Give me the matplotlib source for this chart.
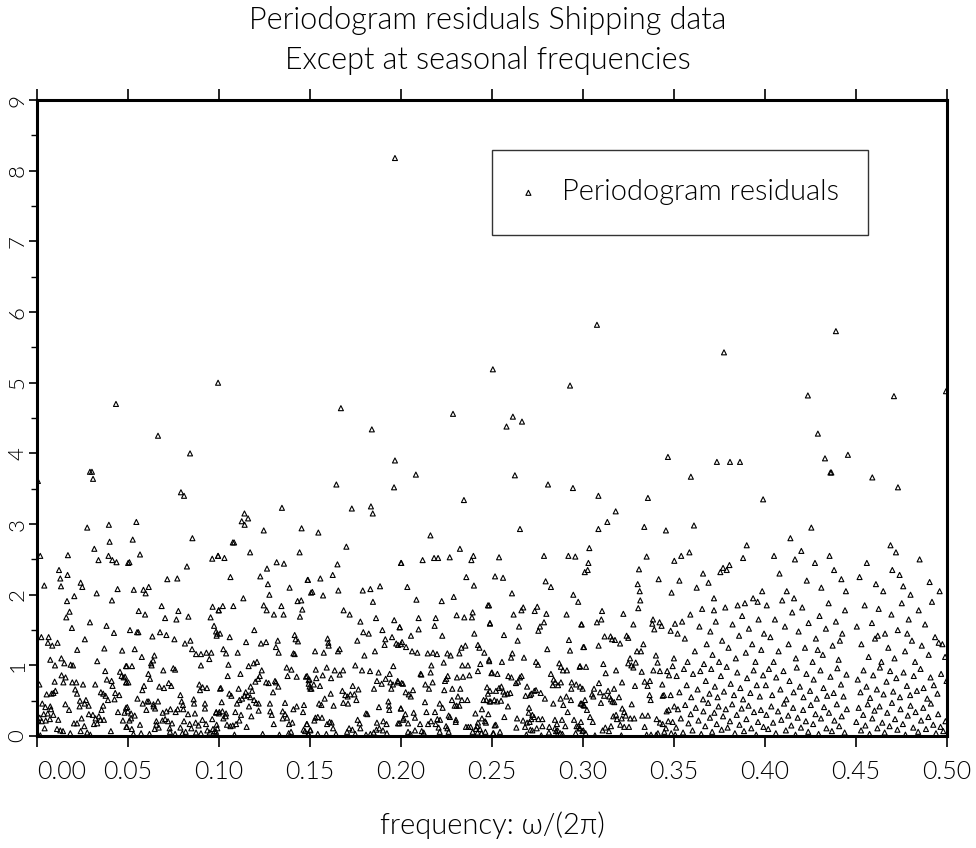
import numpy as np
import matplotlib.pyplot as plt

# (frequency, periodogram residual), grouped in 0.05 bands
band_00 = [
    (0.0005, 3.61), (0.0291, 3.74), (0.0302, 3.74), (0.0308, 3.64), (0.0434, 4.70),
    (0.0276, 2.95), (0.0395, 2.99), (0.0399, 2.75), (0.0315, 2.65), (0.0018, 2.55), (0.0170, 2.56),
    (0.0338, 2.49), (0.0393, 2.55), (0.0414, 2.49), (0.0437, 2.46), (0.0501, 2.45), (0.0121, 2.35),
    (0.0168, 2.28), (0.0128, 2.23), (0.0132, 2.12), (0.0040, 2.13), (0.0240, 2.17), (0.0249, 2.11),
    (0.0328, 2.02), (0.0443, 2.08), (0.0205, 1.98), (0.0165, 1.91), (0.0412, 1.92), (0.0179, 1.76),
    (0.0161, 1.68), (0.0192, 1.53), (0.0291, 1.61), (0.0382, 1.56), (0.0423, 1.46), (0.0024, 1.40),
    (0.0064, 1.40), (0.0060, 1.32), (0.0084, 1.28), (0.0113, 1.32), (0.0263, 1.37), (0.0221, 1.22),
    (0.0370, 1.24), (0.0468, 1.21), (0.0073, 1.08), (0.0099, 1.00), (0.0134, 1.10), (0.0150, 1.03),
    (0.0185, 1.01), (0.0198, 1.00), (0.0331, 1.06), (0.0489, 0.99), (0.0013, 0.73), (0.0097, 0.77),
    (0.0135, 0.86), (0.0157, 0.83), (0.0145, 0.76), (0.0194, 0.76), (0.0216, 0.76), (0.0253, 0.73),
    (0.0320, 0.73), (0.0375, 0.92), (0.0384, 0.80), (0.0410, 0.78), (0.0456, 0.91), (0.0465, 0.85),
    (0.0476, 0.83), (0.0490, 0.76), (0.0415, 0.71), (0.0210, 0.66), (0.0220, 0.60), (0.0101, 0.64),
    (0.0090, 0.61), (0.0080, 0.60), (0.0053, 0.59), (0.0351, 0.62), (0.0364, 0.60), (0.0377, 0.57),
    (0.0390, 0.51), (0.0430, 0.61), (0.0452, 0.58), (0.0426, 0.52), (0.0236, 0.50), (0.0269, 0.51),
    (0.0262, 0.46), (0.0029, 0.46), (0.0046, 0.41), (0.0073, 0.42), (0.0077, 0.38), (0.0156, 0.45),
    (0.0176, 0.37), (0.0234, 0.42), (0.0284, 0.43), (0.0364, 0.43), (0.0355, 0.37), (0.0496, 0.41),
    (0.0481, 0.33), (0.0445, 0.34), (0.0059, 0.32), (0.0037, 0.31), (0.0015, 0.26), (0.0007, 0.22),
    (0.0026, 0.21), (0.0048, 0.22), (0.0071, 0.24), (0.0090, 0.30), (0.0117, 0.23), (0.0245, 0.25),
    (0.0285, 0.31), (0.0307, 0.30), (0.0322, 0.25), (0.0340, 0.28), (0.0348, 0.23), (0.0368, 0.23),
    (0.0331, 0.18), (0.0313, 0.17), (0.0472, 0.22), (0.0494, 0.13), (0.0203, 0.18), (0.0220, 0.18),
    (0.0042, 0.11), (0.0110, 0.10), (0.0128, 0.08), (0.0143, 0.07), (0.0260, 0.14), (0.0240, 0.07),
    (0.0183, 0.04), (0.0276, 0.05), (0.0293, 0.02), (0.0406, 0.07), (0.0018, 0.01),
]

band_05 = [
    (0.0665, 4.25), (0.0841, 4.00), (0.0791, 3.45), (0.0808, 3.40), (0.0995, 5.00),
    (0.0546, 3.03), (0.0526, 2.78), (0.0854, 2.80), (0.0566, 2.57), (0.0508, 2.46), (0.0824, 2.40),
    (0.0963, 2.51), (0.0995, 2.55), (0.0716, 2.22), (0.0771, 2.23), (0.0532, 2.07), (0.0585, 2.07),
    (0.0597, 2.02), (0.0614, 2.11), (0.0685, 1.84), (0.0559, 1.77), (0.0594, 1.72), (0.0704, 1.67),
    (0.0777, 1.77), (0.0766, 1.65), (0.0832, 1.69), (0.0965, 1.83), (0.0998, 1.78), (0.0954, 1.68),
    (0.0973, 1.56), (0.0991, 1.45), (0.0987, 1.42), (0.0511, 1.50), (0.0550, 1.47), (0.0557, 1.47),
    (0.0676, 1.47), (0.0711, 1.43), (0.0634, 1.41), (0.0755, 1.37), (0.0813, 1.31), (0.0843, 1.35),
    (0.0852, 1.23), (0.0874, 1.16), (0.0901, 1.16), (0.0931, 1.18), (0.0958, 1.18), (0.0947, 1.09),
    (0.0537, 1.23), (0.0576, 1.12), (0.0645, 1.14), (0.0638, 1.07), (0.0630, 1.00), (0.0627, 1.03),
    (0.0901, 1.00), (0.0493, 0.99), (0.0522, 0.99), (0.0694, 0.93), (0.0749, 0.96), (0.0759, 0.94),
    (0.0612, 0.88), (0.0621, 0.81), (0.0484, 0.84), (0.0491, 0.76), (0.0502, 0.76), (0.0588, 0.71),
    (0.0579, 0.65), (0.0672, 0.70), (0.0698, 0.68), (0.0724, 0.75), (0.0738, 0.71), (0.0892, 0.73),
    (0.0910, 0.69), (0.0934, 0.68), (0.0896, 0.65), (0.1006, 0.67), (0.0552, 0.53), (0.0581, 0.46),
    (0.0605, 0.49), (0.0614, 0.49), (0.0665, 0.49), (0.0788, 0.58), (0.0795, 0.49), (0.0861, 0.52),
    (0.0863, 0.46), (0.0923, 0.46), (0.0923, 0.39), (0.0489, 0.40), (0.0499, 0.35), (0.0517, 0.32),
    (0.0537, 0.29), (0.0640, 0.45), (0.0641, 0.42), (0.0601, 0.37), (0.0649, 0.39), (0.0691, 0.33),
    (0.0711, 0.35), (0.0733, 0.38), (0.0773, 0.38), (0.0762, 0.34), (0.0802, 0.44), (0.0804, 0.38),
    (0.0830, 0.31), (0.0868, 0.32), (0.1002, 0.34), (0.0985, 0.34), (0.0508, 0.22), (0.0517, 0.25),
    (0.0689, 0.22), (0.0704, 0.24), (0.0720, 0.21), (0.0742, 0.18), (0.0808, 0.21), (0.0839, 0.17),
    (0.0872, 0.19), (0.0909, 0.23), (0.0963, 0.24), (0.0888, 0.15), (0.0929, 0.17), (0.0656, 0.21),
    (0.0656, 0.16), (0.0669, 0.12), (0.0647, 0.10), (0.0729, 0.11), (0.0566, 0.16), (0.0521, 0.10),
    (0.0491, 0.13), (0.0788, 0.12), (0.0848, 0.11), (0.0936, 0.08), (0.0967, 0.10), (0.0987, 0.16),
    (0.0530, 0.03), (0.0572, 0.04), (0.0618, 0.03), (0.0731, 0.06), (0.0759, 0.03), (0.0799, 0.04),
    (0.0817, 0.06), (0.0874, 0.05), (0.0901, 0.04), (0.0949, 0.05), (0.0976, 0.07), (0.0991, 0.11),
]

band_10 = [
    (0.1140, 3.15), (0.1160, 3.08), (0.1346, 3.23),
    (0.1125, 3.04), (0.1141, 2.99), (0.1246, 2.91), (0.1454, 2.94), (0.1076, 2.74), (0.1083, 2.74),
    (0.1171, 2.60), (0.1443, 2.60), (0.0995, 2.55), (0.1030, 2.52), (0.1317, 2.46), (0.1357, 2.44),
    (0.1264, 2.37), (0.1063, 2.25), (0.1227, 2.26), (0.1487, 2.21), (0.1269, 2.15), (0.1277, 2.00),
    (0.1388, 2.10), (0.1134, 1.95), (0.1506, 2.03), (0.1432, 1.91), (0.1452, 1.92), (0.1021, 1.84),
    (0.1079, 1.84), (0.1246, 1.85), (0.1262, 1.78), (0.1343, 1.84), (0.0999, 1.78), (0.1458, 1.79),
    (0.1302, 1.72), (0.1355, 1.72), (0.1445, 1.69), (0.0984, 1.48), (0.1006, 1.45), (0.1059, 1.40),
    (0.1194, 1.50), (0.1416, 1.43), (0.1421, 1.37), (0.1434, 1.34), (0.1149, 1.33), (0.1231, 1.31),
    (0.1259, 1.33), (0.1323, 1.35), (0.1313, 1.26), (0.1328, 1.18), (0.1024, 1.23), (0.1039, 1.17),
    (0.1103, 1.18), (0.1409, 1.17), (0.1416, 1.16), (0.1052, 1.01), (0.1163, 0.99), (0.1191, 1.03),
    (0.1209, 1.05), (0.1235, 0.93), (0.1372, 0.97), (0.1398, 0.94), (0.1048, 0.85), (0.1118, 0.88),
    (0.1224, 0.85), (0.1215, 0.81), (0.1200, 0.77), (0.1259, 0.76), (0.1273, 0.75), (0.1308, 0.78),
    (0.1313, 0.76), (0.1326, 0.70), (0.1377, 0.85), (0.1427, 0.84), (0.1478, 0.84), (0.1493, 0.79),
    (0.1010, 0.68), (0.1057, 0.60), (0.1068, 0.57), (0.1108, 0.67), (0.1147, 0.62), (0.1174, 0.70),
    (0.1182, 0.64), (0.1099, 0.46), (0.1112, 0.51), (0.1127, 0.53), (0.1141, 0.57), (0.1158, 0.58),
    (0.1172, 0.55), (0.1193, 0.51), (0.1204, 0.47), (0.1218, 0.46), (0.1165, 0.42), (0.1297, 0.62),
    (0.1498, 0.70), (0.1502, 0.67), (0.1015, 0.48), (0.1280, 0.46), (0.1363, 0.47), (0.1427, 0.42),
    (0.1467, 0.44), (0.0984, 0.33), (0.0999, 0.32), (0.1019, 0.35), (0.1039, 0.32), (0.1037, 0.28),
    (0.1090, 0.34), (0.1121, 0.30), (0.1178, 0.28), (0.1218, 0.36), (0.1282, 0.35), (0.1290, 0.30),
    (0.1350, 0.35), (0.1363, 0.31), (0.1374, 0.26), (0.1350, 0.25), (0.1409, 0.38), (0.1462, 0.34),
    (0.1024, 0.25), (0.1044, 0.16), (0.1063, 0.14), (0.1076, 0.15), (0.1094, 0.17), (0.1112, 0.22),
    (0.1152, 0.13), (0.1301, 0.17), (0.1385, 0.17), (0.1403, 0.19), (0.1482, 0.17), (0.0984, 0.06),
    (0.1085, 0.02), (0.1240, 0.03), (0.1332, 0.02), (0.1383, 0.04), (0.1396, 0.06), (0.1465, 0.09),
    (0.1473, 0.07), (0.1489, 0.03), (0.1502, 0.08),
]

band_15 = [
    (0.1670, 4.64), (0.1645, 3.56), (0.1730, 3.22), (0.1835, 3.25), (0.1845, 3.15), (0.1840, 4.34),
    (0.1967, 8.18), (0.1967, 3.90), (0.1962, 3.52),
    (0.1546, 2.88), (0.1700, 2.68), (0.1651, 2.43), (0.2000, 2.45), (0.1489, 2.21), (0.1557, 2.23),
    (0.1625, 2.28), (0.1513, 2.04), (0.1572, 1.99), (0.1656, 2.06), (0.1790, 2.06), (0.1832, 2.08),
    (0.1885, 2.12), (0.1846, 1.90), (0.1685, 1.78), (0.1718, 1.72), (0.1777, 1.62), (0.1863, 1.67),
    (0.1963, 1.64), (0.1793, 1.47), (0.1823, 1.45), (0.1898, 1.50), (0.1993, 1.54), (0.1914, 1.37),
    (0.1951, 1.40), (0.1910, 1.29), (0.1974, 1.31), (0.2000, 1.30), (0.1597, 1.38), (0.1601, 1.32),
    (0.1603, 1.28), (0.1760, 1.35), (0.1528, 1.20), (0.1576, 1.18), (0.1654, 1.20), (0.1663, 1.23),
    (0.1799, 1.14), (0.1857, 1.20), (0.1749, 1.00), (0.1786, 0.93), (0.1830, 0.92), (0.1877, 0.90),
    (0.1958, 0.99), (0.1532, 0.94), (0.1592, 0.97), (0.1636, 0.93), (0.1682, 0.93), (0.1663, 0.87),
    (0.1484, 0.85), (0.1497, 0.80), (0.1535, 0.82), (0.1570, 0.86), (0.1616, 0.82), (0.1493, 0.74),
    (0.1521, 0.73), (0.1508, 0.67), (0.1555, 0.71), (0.1868, 0.78), (0.1894, 0.74), (0.1916, 0.81),
    (0.1938, 0.88), (0.1942, 0.76), (0.1956, 0.73), (0.1982, 0.78), (0.2004, 0.75), (0.1852, 0.67),
    (0.1947, 0.67), (0.1614, 0.60), (0.1678, 0.64), (0.1735, 0.71), (0.1766, 0.66), (0.1694, 0.58),
    (0.1707, 0.56), (0.1722, 0.59), (0.1744, 0.59), (0.1755, 0.51), (0.1683, 0.47), (0.1709, 0.46),
    (0.1581, 0.53), (0.1550, 0.46), (0.1563, 0.44), (0.1630, 0.43), (0.1879, 0.41), (0.1931, 0.49),
    (0.1934, 0.43), (0.1936, 0.37), (0.2000, 0.39), (0.1808, 0.32), (0.1815, 0.31), (0.1530, 0.26),
    (0.1543, 0.27), (0.1566, 0.26), (0.1524, 0.22), (0.1484, 0.17), (0.1502, 0.09), (0.1594, 0.17),
    (0.1608, 0.20), (0.1619, 0.19), (0.1627, 0.11), (0.1762, 0.23), (0.1773, 0.18), (0.1777, 0.11),
    (0.1715, 0.11), (0.1704, 0.06), (0.1733, 0.09), (0.1868, 0.19), (0.1903, 0.21), (0.1921, 0.17),
    (0.1991, 0.18), (0.2011, 0.23), (0.1865, 0.09), (0.1881, 0.11), (0.1901, 0.08), (0.1493, 0.03),
    (0.1543, 0.03), (0.1590, 0.03), (0.1643, 0.03), (0.1749, 0.03), (0.1808, 0.02), (0.1832, 0.03),
    (0.1850, 0.05), (0.1923, 0.04),
]

band_20 = [
    (0.2082, 3.70), (0.2286, 4.56), (0.2346, 3.34),
    (0.2162, 2.84), (0.2324, 2.65), (0.2002, 2.45), (0.2119, 2.49), (0.2182, 2.52), (0.2204, 2.52),
    (0.2268, 2.53), (0.2387, 2.49), (0.2398, 2.55), (0.2359, 2.25), (0.2401, 2.13), (0.2035, 2.11),
    (0.2085, 1.93), (0.2224, 1.91), (0.2290, 1.97), (0.2478, 1.85), (0.2097, 1.67), (0.2191, 1.67),
    (0.2185, 1.56), (0.2306, 1.71), (0.2348, 1.68), (0.2390, 1.68), (0.2394, 1.75), (0.2489, 1.60),
    (0.1993, 1.54), (0.2097, 1.51), (0.2055, 1.42), (0.2227, 1.42), (0.2403, 1.45), (0.2006, 1.33),
    (0.1984, 1.29), (0.2028, 1.26), (0.2061, 1.20), (0.2090, 1.18), (0.2147, 1.17), (0.2176, 1.18),
    (0.2198, 1.16), (0.2255, 1.17), (0.2273, 1.14), (0.2321, 1.17), (0.2332, 1.25), (0.2354, 1.28),
    (0.2423, 1.29), (0.2431, 1.25), (0.2458, 1.18), (0.2485, 1.06), (0.2235, 1.04), (0.2167, 1.00),
    (0.2163, 0.90), (0.2108, 0.88), (0.2112, 0.87), (0.2337, 1.00), (0.2368, 1.00), (0.2436, 1.02),
    (0.2423, 0.92), (0.2500, 0.90), (0.1984, 0.76), (0.2011, 0.74), (0.2134, 0.73), (0.2154, 0.67),
    (0.2174, 0.76), (0.2257, 0.85), (0.2249, 0.81), (0.2242, 0.78), (0.2308, 0.83), (0.2341, 0.84),
    (0.2376, 0.86), (0.2473, 0.69), (0.2478, 0.60), (0.2026, 0.62), (0.2043, 0.59), (0.2054, 0.56),
    (0.2066, 0.65), (0.2238, 0.65), (0.2282, 0.67), (0.2326, 0.67), (0.2313, 0.56), (0.2280, 0.51),
    (0.2295, 0.43), (0.2306, 0.43), (0.2321, 0.43), (0.2335, 0.51), (0.2365, 0.51), (0.2454, 0.51),
    (0.2469, 0.51), (0.2487, 0.49), (0.2132, 0.48), (0.2213, 0.46), (0.2229, 0.40), (0.2262, 0.29),
    (0.1999, 0.39), (0.2024, 0.31), (0.2015, 0.25), (0.2070, 0.33), (0.2077, 0.26), (0.2140, 0.34),
    (0.2187, 0.34), (0.2200, 0.24), (0.2215, 0.23), (0.2269, 0.27), (0.2302, 0.23), (0.2301, 0.20),
    (0.2357, 0.13), (0.2370, 0.13), (0.2383, 0.13), (0.2409, 0.32), (0.2423, 0.19), (0.2445, 0.25),
    (0.2445, 0.38), (0.2462, 0.21), (0.2467, 0.19), (0.2480, 0.31), (0.1984, 0.18), (0.2039, 0.18),
    (0.2105, 0.17), (0.2149, 0.17), (0.2165, 0.21), (0.2191, 0.17), (0.2207, 0.12), (0.2248, 0.14),
    (0.2255, 0.11), (0.2412, 0.10), (0.2418, 0.14), (0.2434, 0.10), (0.2039, 0.06), (0.2052, 0.03),
    (0.2077, 0.08), (0.2114, 0.07), (0.2125, 0.05), (0.2213, 0.06), (0.2262, 0.06), (0.2394, 0.06),
    (0.2421, 0.05), (0.2442, 0.04), (0.2464, 0.06), (0.2509, 0.04),
]

band_25 = [
    (0.2505, 5.19), (0.2580, 4.38), (0.2615, 4.52), (0.2665, 4.45), (0.2626, 3.69), (0.2808, 3.56),
    (0.2929, 4.96), (0.2945, 3.51),
    (0.2654, 2.93), (0.2539, 2.53), (0.2786, 2.55), (0.2920, 2.55), (0.2958, 2.54), (0.2517, 2.26),
    (0.2561, 2.24), (0.2795, 2.19), (0.2824, 2.11), (0.2610, 2.02), (0.2947, 2.00), (0.2974, 1.90),
    (0.2484, 1.85), (0.2672, 1.82), (0.2662, 1.78), (0.2749, 1.83), (0.2735, 1.77), (0.2619, 1.72),
    (0.2799, 1.73), (0.2910, 1.72), (0.2786, 1.61), (0.2764, 1.55), (0.2755, 1.49), (0.2649, 1.55),
    (0.2991, 1.58), (0.2489, 1.59), (0.2566, 1.43), (0.2641, 1.35), (0.2923, 1.36), (0.2929, 1.21),
    (0.2804, 1.23), (0.3002, 1.26), (0.2612, 1.17), (0.2605, 1.11), (0.2555, 1.05), (0.2676, 1.11),
    (0.2742, 1.05), (0.2753, 1.01), (0.2870, 1.03), (0.2879, 0.98), (0.2890, 0.93), (0.2912, 0.93),
    (0.2982, 0.98), (0.2824, 0.88), (0.2484, 1.08), (0.2497, 0.89), (0.2530, 0.88), (0.2590, 0.85),
    (0.2607, 0.83), (0.2663, 0.85), (0.2654, 0.83), (0.2632, 0.75), (0.2643, 0.77), (0.2839, 0.80),
    (0.2848, 0.76), (0.2879, 0.76), (0.2863, 0.72), (0.2834, 0.72), (0.2938, 0.76), (0.2963, 0.73),
    (0.2998, 0.67), (0.2936, 0.67), (0.2489, 0.64), (0.2522, 0.64), (0.2552, 0.70), (0.2539, 0.68),
    (0.2563, 0.63), (0.2570, 0.59), (0.2586, 0.60), (0.2601, 0.61), (0.2693, 0.70), (0.2716, 0.60),
    (0.2733, 0.64), (0.2742, 0.65), (0.2768, 0.61), (0.2685, 0.57), (0.2709, 0.58), (0.2791, 0.53),
    (0.2877, 0.53), (0.2909, 0.56), (0.2892, 0.44), (0.2837, 0.46), (0.2934, 0.51), (0.2987, 0.46),
    (0.3007, 0.43), (0.2493, 0.49), (0.2513, 0.51), (0.2528, 0.49), (0.2550, 0.50), (0.2588, 0.42),
    (0.2704, 0.40), (0.2702, 0.33), (0.2916, 0.34), (0.2568, 0.27), (0.2638, 0.25), (0.2671, 0.22),
    (0.2693, 0.19), (0.2707, 0.20), (0.2716, 0.24), (0.2722, 0.30), (0.2731, 0.27), (0.2755, 0.24),
    (0.2777, 0.24), (0.2846, 0.23), (0.2857, 0.17), (0.2885, 0.23), (0.2951, 0.23), (0.2989, 0.20),
    (0.2515, 0.15), (0.2521, 0.16), (0.2634, 0.12), (0.2682, 0.13), (0.2711, 0.09), (0.2722, 0.08),
    (0.2746, 0.11), (0.2777, 0.14), (0.2815, 0.13), (0.2846, 0.11), (0.2852, 0.07), (0.2861, 0.08),
    (0.2903, 0.14), (0.2965, 0.14), (0.2974, 0.14), (0.2980, 0.11), (0.3002, 0.08), (0.2506, 0.04),
    (0.2544, 0.06), (0.2689, 0.02), (0.2771, 0.01), (0.2813, 0.05), (0.2859, 0.02), (0.2876, 0.04),
    (0.2887, 0.03), (0.2960, 0.04), (0.3015, 0.04),
]

band_30 = [
    (0.3077, 5.82), (0.3085, 3.40), (0.3180, 3.18), (0.3357, 3.37), (0.3467, 3.95),
    (0.3134, 3.03), (0.3085, 2.93), (0.3337, 2.96), (0.3456, 2.91), (0.3035, 2.66), (0.3350, 2.54),
    (0.3030, 2.45), (0.3026, 2.35), (0.3010, 2.32), (0.3308, 2.36), (0.3416, 2.22), (0.3502, 2.48),
    (0.3301, 2.15), (0.3312, 2.05), (0.3315, 1.92), (0.3487, 2.03), (0.3304, 1.81), (0.3105, 1.77),
    (0.3222, 1.73), (0.3101, 1.65), (0.3077, 1.61), (0.3277, 1.58), (0.3385, 1.65), (0.3381, 1.59),
    (0.3421, 1.61), (0.3432, 1.56), (0.3392, 1.51), (0.3482, 1.49), (0.3506, 1.59), (0.2993, 1.58),
    (0.3119, 1.41), (0.3152, 1.41), (0.3160, 1.37), (0.3176, 1.36), (0.3240, 1.42), (0.3249, 1.39),
    (0.3204, 1.31), (0.3086, 1.28), (0.3332, 1.30), (0.3297, 1.20), (0.3319, 1.20), (0.3006, 1.26),
    (0.3401, 1.14), (0.3500, 1.10), (0.2984, 0.99), (0.3017, 0.98), (0.3112, 1.02), (0.3259, 1.10),
    (0.3249, 1.03), (0.3266, 1.00), (0.3277, 0.97), (0.3290, 1.04), (0.3410, 1.04), (0.3493, 0.99),
    (0.3323, 0.91), (0.3387, 0.93), (0.3423, 0.92), (0.3463, 0.92), (0.3473, 0.86), (0.3125, 0.89),
    (0.3182, 0.93), (0.2984, 0.70), (0.3061, 0.67), (0.3088, 0.75), (0.3215, 0.76), (0.3286, 0.71),
    (0.3339, 0.77), (0.3368, 0.78), (0.3355, 0.71), (0.3436, 0.73), (0.3050, 0.59), (0.3057, 0.56),
    (0.3094, 0.62), (0.3138, 0.64), (0.3145, 0.56), (0.3154, 0.52), (0.3162, 0.49), (0.3172, 0.48),
    (0.3116, 0.57), (0.3171, 0.67), (0.3198, 0.55), (0.3011, 0.51), (0.2993, 0.46), (0.3002, 0.44),
    (0.3022, 0.37), (0.3099, 0.47), (0.3268, 0.45), (0.3366, 0.58), (0.3372, 0.51), (0.3438, 0.57),
    (0.3445, 0.58), (0.3482, 0.58), (0.3502, 0.42), (0.3460, 0.35), (0.3471, 0.37), (0.3167, 0.28),
    (0.3182, 0.30), (0.3187, 0.24), (0.3216, 0.39), (0.3227, 0.34), (0.3235, 0.29), (0.3213, 0.25),
    (0.3205, 0.16), (0.3227, 0.13), (0.3253, 0.13), (0.3260, 0.25), (0.3282, 0.25), (0.3326, 0.29),
    (0.3357, 0.29), (0.3405, 0.24), (0.3423, 0.19), (0.3438, 0.17), (0.3469, 0.21), (0.3493, 0.20),
    (0.3039, 0.27), (0.3054, 0.20), (0.2984, 0.11), (0.2997, 0.07), (0.3123, 0.12), (0.3108, 0.08),
    (0.3143, 0.07), (0.3154, 0.14), (0.3339, 0.13), (0.3350, 0.02), (0.3374, 0.02), (0.3403, 0.02),
    (0.3412, 0.04), (0.3447, 0.06), (0.3456, 0.11), (0.3485, 0.04), (0.3507, 0.02), (0.3066, 0.01),
    (0.3211, 0.01),
]

band_35 = [
    (0.3593, 3.67), (0.3736, 3.88), (0.3775, 5.43), (0.3808, 3.88), (0.3863, 3.88), (0.3900, 2.70),
    (0.3990, 3.35),
    (0.3540, 2.55), (0.3585, 2.60), (0.3610, 2.98), (0.3660, 2.30), (0.3690, 2.17), (0.3720, 1.95),
    (0.3755, 2.32), (0.3770, 2.38), (0.3790, 2.35), (0.3805, 2.42), (0.3850, 1.85), (0.3880, 2.52),
    (0.3935, 1.95), (0.3960, 1.90), (0.3985, 2.05), (0.3625, 2.10), (0.3530, 2.20),
    (0.3520, 1.45), (0.3545, 1.62), (0.3560, 1.38), (0.3590, 1.72), (0.3615, 1.20), (0.3640, 1.55),
    (0.3655, 1.80), (0.3680, 1.30), (0.3700, 1.48), (0.3712, 1.15), (0.3730, 1.62), (0.3748, 1.05),
    (0.3765, 1.35), (0.3782, 1.82), (0.3800, 1.25), (0.3822, 1.58), (0.3840, 1.10), (0.3858, 1.42),
    (0.3875, 1.70), (0.3895, 1.18), (0.3912, 1.52), (0.3930, 1.30), (0.3948, 1.05), (0.3965, 1.65),
    (0.3980, 1.22), (0.3995, 1.45), (0.3575, 1.05), (0.3665, 1.02), (0.3890, 1.88), (0.3720, 1.78),
    (0.3515, 0.85), (0.3530, 0.62), (0.3555, 0.95), (0.3570, 0.72), (0.3595, 0.55), (0.3605, 0.88),
    (0.3630, 0.66), (0.3645, 0.92), (0.3660, 0.52), (0.3675, 0.78), (0.3695, 0.60), (0.3705, 0.95),
    (0.3725, 0.70), (0.3740, 0.55), (0.3758, 0.85), (0.3775, 0.63), (0.3790, 0.98), (0.3812, 0.74),
    (0.3830, 0.58), (0.3848, 0.90), (0.3865, 0.68), (0.3880, 0.52), (0.3902, 0.82), (0.3920, 0.61),
    (0.3938, 0.93), (0.3955, 0.72), (0.3972, 0.56), (0.3990, 0.86),
    (0.3512, 0.12), (0.3522, 0.38), (0.3538, 0.25), (0.3550, 0.05), (0.3562, 0.44), (0.3580, 0.18),
    (0.3592, 0.31), (0.3602, 0.08), (0.3620, 0.40), (0.3635, 0.22), (0.3650, 0.03), (0.3662, 0.35),
    (0.3672, 0.14), (0.3688, 0.47), (0.3698, 0.26), (0.3710, 0.06), (0.3722, 0.33), (0.3735, 0.17),
    (0.3745, 0.42), (0.3762, 0.09), (0.3770, 0.28), (0.3785, 0.38), (0.3795, 0.12), (0.3808, 0.21),
    (0.3820, 0.45), (0.3835, 0.04), (0.3845, 0.30), (0.3860, 0.16), (0.3872, 0.39), (0.3885, 0.07),
    (0.3898, 0.24), (0.3910, 0.43), (0.3925, 0.11), (0.3940, 0.34), (0.3952, 0.02), (0.3962, 0.20),
    (0.3978, 0.37), (0.3992, 0.13),
]

band_40 = [
    (0.4236, 4.82), (0.4291, 4.28), (0.4330, 3.93), (0.4360, 3.73), (0.4365, 3.73), (0.4390, 5.73),
    (0.4456, 3.98),
    (0.4050, 2.55), (0.4080, 2.30), (0.4120, 2.05), (0.4165, 2.50), (0.4200, 2.62), (0.4230, 2.20),
    (0.4275, 2.45), (0.4310, 2.10), (0.4355, 2.55), (0.4380, 2.35), (0.4420, 2.22), (0.4445, 2.05),
    (0.4140, 2.80), (0.4255, 2.95),
    (0.4010, 1.85), (0.4030, 1.40), (0.4055, 1.65), (0.4075, 1.20), (0.4095, 1.92), (0.4110, 1.55),
    (0.4130, 1.30), (0.4150, 1.75), (0.4170, 1.10), (0.4185, 1.48), (0.4205, 1.82), (0.4220, 1.25),
    (0.4240, 1.60), (0.4262, 1.05), (0.4280, 1.38), (0.4300, 1.70), (0.4318, 1.15), (0.4335, 1.52),
    (0.4350, 1.88), (0.4372, 1.28), (0.4390, 1.62), (0.4405, 1.08), (0.4425, 1.45), (0.4440, 1.78),
    (0.4048, 1.05), (0.4160, 1.95), (0.4290, 1.22), (0.4412, 1.35),
    (0.4005, 0.72), (0.4022, 0.95), (0.4040, 0.58), (0.4062, 0.83), (0.4085, 0.66), (0.4102, 0.92),
    (0.4118, 0.52), (0.4135, 0.78), (0.4158, 0.62), (0.4175, 0.97), (0.4192, 0.70), (0.4212, 0.55),
    (0.4228, 0.88), (0.4248, 0.64), (0.4268, 0.80), (0.4285, 0.53), (0.4305, 0.93), (0.4322, 0.68),
    (0.4342, 0.57), (0.4360, 0.84), (0.4378, 0.61), (0.4398, 0.96), (0.4418, 0.73), (0.4432, 0.56),
    (0.4448, 0.87),
    (0.4008, 0.30), (0.4018, 0.10), (0.4035, 0.42), (0.4045, 0.19), (0.4060, 0.04), (0.4072, 0.35),
    (0.4090, 0.23), (0.4105, 0.46), (0.4115, 0.08), (0.4128, 0.29), (0.4145, 0.15), (0.4155, 0.40),
    (0.4168, 0.02), (0.4180, 0.26), (0.4198, 0.12), (0.4210, 0.37), (0.4225, 0.21), (0.4238, 0.06),
    (0.4252, 0.44), (0.4265, 0.17), (0.4278, 0.31), (0.4295, 0.03), (0.4308, 0.25), (0.4325, 0.41),
    (0.4338, 0.11), (0.4352, 0.33), (0.4368, 0.07), (0.4382, 0.22), (0.4395, 0.45), (0.4408, 0.14),
    (0.4422, 0.28), (0.4438, 0.05), (0.4450, 0.38),
]

band_45 = [
    (0.4590, 3.66), (0.4690, 2.70), (0.4709, 4.81), (0.4731, 3.52), (0.4995, 4.88),
    (0.4520, 2.25), (0.4560, 2.45), (0.4610, 2.15), (0.4650, 2.05), (0.4700, 2.35), (0.4720, 2.60),
    (0.4740, 2.28), (0.4760, 2.12), (0.4800, 2.00), (0.4850, 2.50), (0.4905, 2.18), (0.4960, 2.05),
    (0.4505, 1.55), (0.4530, 1.30), (0.4548, 1.85), (0.4570, 1.12), (0.4588, 1.60), (0.4605, 1.38),
    (0.4625, 1.80), (0.4640, 1.05), (0.4660, 1.45), (0.4678, 1.25), (0.4695, 1.72), (0.4712, 1.10),
    (0.4730, 1.50), (0.4752, 1.88), (0.4770, 1.20), (0.4790, 1.65), (0.4808, 1.35), (0.4825, 1.05),
    (0.4845, 1.78), (0.4862, 1.28), (0.4880, 1.58), (0.4900, 1.15), (0.4918, 1.90), (0.4935, 1.40),
    (0.4955, 1.32), (0.4975, 1.30), (0.4990, 1.12), (0.4620, 1.42), (0.4782, 1.45),
    (0.4510, 0.80), (0.4525, 0.62), (0.4542, 0.93), (0.4558, 0.70), (0.4578, 0.54), (0.4595, 0.86),
    (0.4615, 0.66), (0.4632, 0.97), (0.4652, 0.59), (0.4668, 0.77), (0.4688, 0.92), (0.4705, 0.63),
    (0.4722, 0.82), (0.4742, 0.55), (0.4762, 0.90), (0.4780, 0.71), (0.4798, 0.58), (0.4818, 0.85),
    (0.4835, 0.64), (0.4855, 0.95), (0.4872, 0.68), (0.4892, 0.53), (0.4910, 0.83), (0.4928, 0.72),
    (0.4948, 0.60), (0.4968, 0.88), (0.4998, 0.78),
    (0.4502, 0.20), (0.4515, 0.40), (0.4528, 0.08), (0.4540, 0.30), (0.4552, 0.15), (0.4565, 0.45),
    (0.4575, 0.03), (0.4590, 0.25), (0.4602, 0.36), (0.4618, 0.11), (0.4630, 0.42), (0.4645, 0.19),
    (0.4658, 0.05), (0.4672, 0.33), (0.4685, 0.14), (0.4698, 0.47), (0.4715, 0.24), (0.4728, 0.09),
    (0.4745, 0.38), (0.4758, 0.17), (0.4772, 0.02), (0.4785, 0.29), (0.4800, 0.43), (0.4815, 0.12),
    (0.4828, 0.34), (0.4842, 0.06), (0.4858, 0.22), (0.4870, 0.40), (0.4885, 0.10), (0.4898, 0.27),
    (0.4912, 0.46), (0.4925, 0.16), (0.4940, 0.04), (0.4952, 0.31), (0.4965, 0.13), (0.4980, 0.07),
    (0.4992, 0.21),
]

x_ticks = [0.00, 0.05, 0.10, 0.15, 0.20, 0.25, 0.30, 0.35, 0.40, 0.45, 0.50]
y_ticks = [0, 1, 2, 3, 4, 5, 6, 7, 8, 9]

pts = np.array(band_00 + band_05 + band_10 + band_15 + band_20
               + band_25 + band_30 + band_35 + band_40 + band_45)
freq = pts[:, 0]
resid = pts[:, 1]

plt.rcParams['font.family'] = ['Lato', 'DejaVu Sans']
plt.rcParams['font.weight'] = 300
plt.rcParams['figure.titleweight'] = 300
plt.rcParams['axes.labelweight'] = 300
plt.rcParams['text.color'] = 'black'
plt.rcParams['xtick.color'] = 'black'
plt.rcParams['ytick.color'] = 'black'

fig = plt.figure(figsize=(9.76, 8.48), dpi=100)
ax = fig.add_axes([0.0379, 0.132, 0.9323, 0.750])

ax.scatter(freq, resid, marker='^', s=13, facecolors='none', edgecolors='black',
           linewidths=0.8, label='Periodogram residuals')

ax.set_xlim(0, 0.5)
ax.set_ylim(0, 9)
ax.set_xticks(x_ticks)
ax.set_xticklabels(['%.2f' % t for t in x_ticks])
ax.get_xticklabels()[0].set_horizontalalignment('left')
ax.set_yticks(y_ticks)
ax.set_yticks(np.arange(0.5, 9, 1.0), minor=True)
ax.set_yticklabels([str(t) for t in y_ticks], rotation=90, va='center')

ax.tick_params(axis='x', which='major', direction='out', length=8, width=1.2,
               top=True, labelsize=18, pad=9)
ax.tick_params(axis='y', which='major', direction='out', length=6, width=1.2,
               labelsize=16, pad=1)
ax.tick_params(axis='y', which='minor', direction='out', length=4, width=1.0)
for s in ax.spines.values():
    s.set_linewidth(2.2)

ax.set_xlabel('frequency: ω/(2π)', fontsize=21, labelpad=20)
fig.suptitle('Periodogram residuals Shipping data\nExcept at seasonal frequencies',
             fontsize=22, y=0.993, linespacing=1.5)

leg = ax.legend(loc='upper left', bbox_to_anchor=(0.5, 0.921), fontsize=21,
                frameon=True, fancybox=False, edgecolor='black', markerscale=1.0,
                handletextpad=0.9, borderpad=1.0, borderaxespad=0.0, handlelength=0.5)
leg.get_frame().set_linewidth(1.0)

fig.savefig('out.png', dpi=100)
